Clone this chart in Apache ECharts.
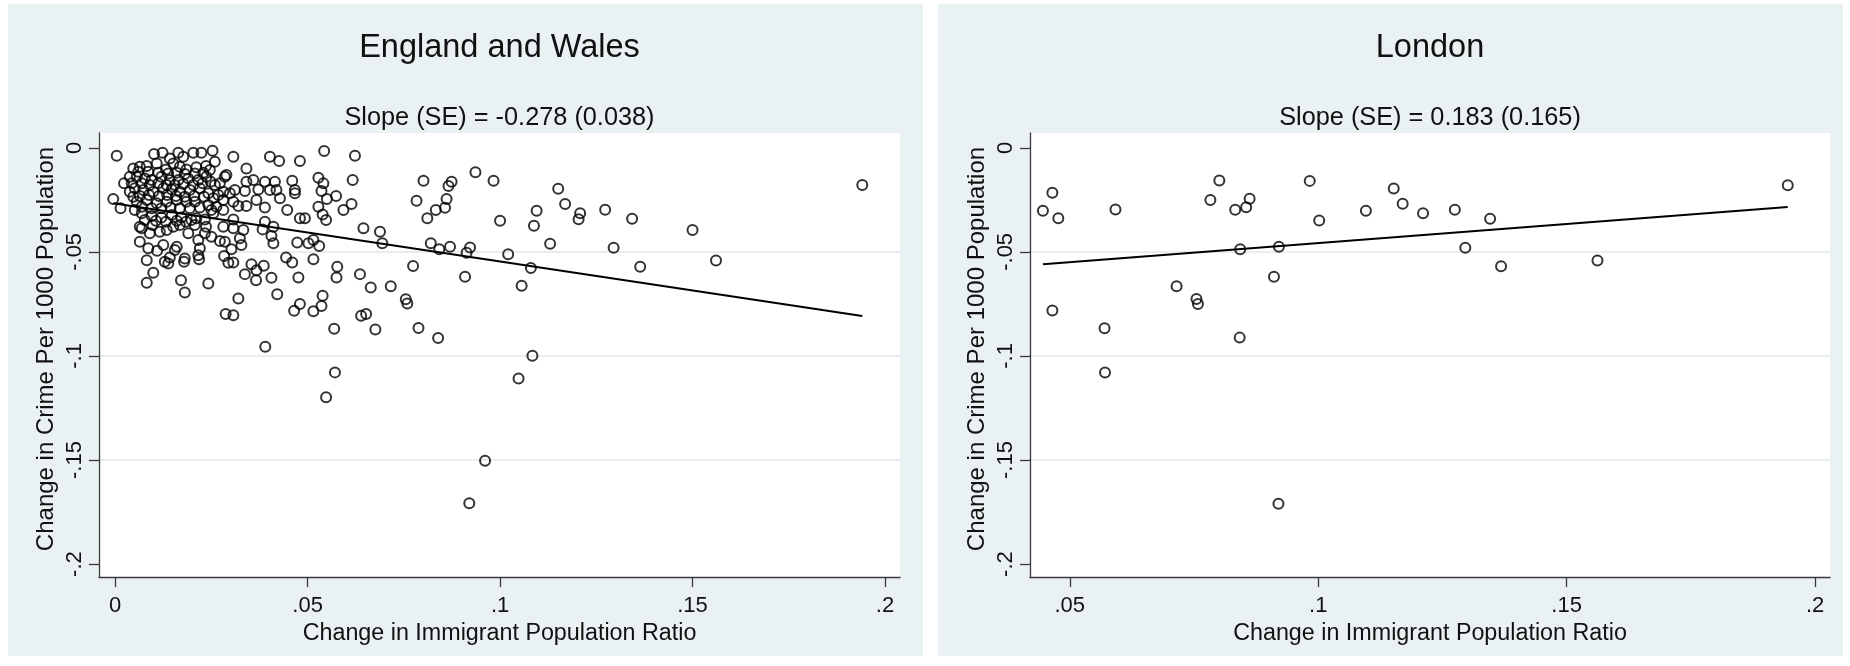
<!DOCTYPE html>
<html><head><meta charset="utf-8">
<script src="https://cdn.jsdelivr.net/npm/echarts@6/dist/echarts.min.js"></script>
<style>html,body{margin:0;padding:0;background:#fff}#c{width:1850px;height:666px}</style>
</head><body><div id="c"></div>
<script>
// ---------- data ----------
const panelTitles = ['England and Wales', 'London'];
const panelSubtitles = ['Slope (SE) = -0.278 (0.038)', 'Slope (SE) = 0.183 (0.165)'];
const xAxisTitle = 'Change in Immigrant Population Ratio';
const yAxisTitle = 'Change in Crime Per 1000 Population';

const xTicksEW = [0, 0.05, 0.1, 0.15, 0.2];
const xTicksLon = [0.05, 0.1, 0.15, 0.2];
const yTicks = [0, -0.05, -0.1, -0.15, -0.2];

// fitted lines (slope as reported, intercept)
const ewSlope = -0.278, ewIntercept = -0.0268;
const lonSlope = 0.183, lonIntercept = -0.0641;

// England and Wales: [change in immigrant ratio, change in crime per 1000]
const ewPoints = [
[0.0004,-0.0038],[0.0101,-0.0030],[0.0123,-0.0024],[0.0142,-0.0051],[0.0164,-0.0024],[0.0177,-0.0043],[0.0203,-0.0024],[0.0224,-0.0024],[0.0253,-0.0014],[0.0259,-0.0067],[0.0307,-0.0043],[0.0402,-0.0043],[0.0426,-0.0064],[0.0480,-0.0064],[0.0543,-0.0016],[0.0623,-0.0038],
[0.0047,-0.0099],[0.0064,-0.0091],[0.0082,-0.0088],[0.0108,-0.0075],[0.0132,-0.0104],[0.0151,-0.0075],[0.0168,-0.0091],[0.0185,-0.0104],[0.0211,-0.0094],[0.0236,-0.0088],[0.0246,-0.0107],[0.0341,-0.0099],[0.0936,-0.0118],
[0.0023,-0.0171],[0.0056,-0.0139],[0.0077,-0.0147],[0.0095,-0.0155],[0.0120,-0.0139],[0.0142,-0.0155],[0.0164,-0.0155],[0.0190,-0.0147],[0.0216,-0.0155],[0.0237,-0.0139],[0.0259,-0.0179],[0.0285,-0.0139],[0.0289,-0.0131],[0.0341,-0.0163],[0.0359,-0.0155],[0.0389,-0.0163],[0.0415,-0.0163],[0.0460,-0.0158],[0.0528,-0.0144],[0.0541,-0.0171],[0.0617,-0.0155],[0.0801,-0.0158],[0.0874,-0.0163],[0.0866,-0.0184],[0.0983,-0.0158],
[0.0051,-0.0195],[0.0073,-0.0203],[0.0099,-0.0211],[0.0125,-0.0195],[0.0147,-0.0200],[0.0168,-0.0211],[0.0194,-0.0203],[0.0220,-0.0195],[0.0242,-0.0219],[0.0281,-0.0211],[0.0311,-0.0203],[0.0337,-0.0208],[0.0372,-0.0200],[0.0402,-0.0203],[0.0419,-0.0203],[0.0467,-0.0203],[0.0467,-0.0219],[0.0536,-0.0208],[0.0550,-0.0246],[0.0574,-0.0232],[0.0428,-0.0243],[0.0861,-0.0246],[0.0783,-0.0254],
[-0.0005,-0.0246],[0.0014,-0.0291],[0.0056,-0.0259],[0.0082,-0.0251],[0.0108,-0.0267],[0.0134,-0.0259],[0.0160,-0.0251],[0.0185,-0.0259],[0.0207,-0.0259],[0.0255,-0.0243],[0.0281,-0.0251],[0.0307,-0.0259],[0.0320,-0.0280],[0.0341,-0.0280],[0.0367,-0.0251],[0.0389,-0.0287],[0.0447,-0.0299],[0.0528,-0.0283],[0.0593,-0.0299],[0.0614,-0.0270],[0.0833,-0.0299],[0.0857,-0.0288],
[0.0051,-0.0299],[0.0069,-0.0315],[0.0095,-0.0328],[0.0120,-0.0335],[0.0147,-0.0323],[0.0172,-0.0335],[0.0198,-0.0347],[0.0250,-0.0299],[0.0255,-0.0315],[0.0281,-0.0299],[0.0307,-0.0344],[0.0389,-0.0355],[0.0480,-0.0339],[0.0493,-0.0339],[0.0539,-0.0320],[0.0548,-0.0347],[0.0811,-0.0339],[0.1000,-0.0351],
[0.0064,-0.0379],[0.0069,-0.0387],[0.0097,-0.0371],[0.0116,-0.0403],[0.0151,-0.0379],[0.0168,-0.0371],[0.0190,-0.0411],[0.0207,-0.0371],[0.0236,-0.0379],[0.0281,-0.0379],[0.0307,-0.0387],[0.0333,-0.0395],[0.0383,-0.0392],[0.0411,-0.0379],[0.0406,-0.0424],[0.0645,-0.0387],[0.0688,-0.0403],
[0.0064,-0.0451],[0.0086,-0.0483],[0.0109,-0.0495],[0.0125,-0.0467],[0.0160,-0.0475],[0.0155,-0.0491],[0.0216,-0.0443],[0.0220,-0.0483],[0.0272,-0.0448],[0.0285,-0.0451],[0.0302,-0.0487],[0.0324,-0.0435],[0.0328,-0.0467],[0.0411,-0.0459],[0.0473,-0.0455],[0.0502,-0.0459],[0.0515,-0.0443],[0.0530,-0.0472],[0.0694,-0.0459],[0.0820,-0.0459],[0.0842,-0.0488],[0.0870,-0.0475],[0.0922,-0.0479],[0.0913,-0.0504],
[0.0082,-0.0540],[0.0129,-0.0548],[0.0138,-0.0556],[0.0142,-0.0527],[0.0181,-0.0532],[0.0179,-0.0548],[0.0216,-0.0516],[0.0218,-0.0536],[0.0283,-0.0520],[0.0294,-0.0552],[0.0307,-0.0551],[0.0444,-0.0527],[0.0460,-0.0551],[0.0515,-0.0536],
[0.0099,-0.0600],[0.0082,-0.0648],[0.0171,-0.0636],[0.0242,-0.0652],[0.0337,-0.0607],[0.0354,-0.0560],[0.0366,-0.0636],[0.0386,-0.0567],[0.0367,-0.0588],[0.0406,-0.0624],[0.0476,-0.0623],[0.0575,-0.0623],[0.0577,-0.0572],[0.0636,-0.0607],[0.0774,-0.0568],[0.0909,-0.0620],
[0.0181,-0.0695],[0.0320,-0.0724],[0.0421,-0.0704],[0.0664,-0.0671],[0.0716,-0.0665],[0.0755,-0.0728],[0.0759,-0.0748],[0.0287,-0.0799],[0.0307,-0.0804],[0.0465,-0.0783],[0.0480,-0.0751],[0.0515,-0.0785],[0.0536,-0.0760],[0.0539,-0.0711],[0.0639,-0.0807],[0.0652,-0.0799],
[0.0569,-0.0869],[0.0676,-0.0873],[0.0788,-0.0866],[0.0839,-0.0914],[0.0390,-0.0956],[0.0571,-0.1079],[0.1048,-0.1108],[0.0548,-0.1198],[0.0961,-0.1504],[0.0920,-0.1708],
[0.1021,-0.0512],[0.1080,-0.0577],[0.1056,-0.0663],[0.1084,-0.0999],[0.1088,-0.0375],[0.1095,-0.0303],[0.1130,-0.0461],[0.1151,-0.0197],[0.1169,-0.0270],[0.1208,-0.0315],[0.1204,-0.0343],[0.1273,-0.0298],[0.1295,-0.0480],[0.1343,-0.0341],[0.1364,-0.0572],[0.1500,-0.0395],[0.1561,-0.0541],[0.1941,-0.0179],
[0.0060,-0.0115],[0.0086,-0.0115],[0.0112,-0.0120],[0.0138,-0.0123],[0.0160,-0.0120],[0.0181,-0.0126],[0.0207,-0.0123],[0.0229,-0.0120],
[0.0069,-0.0171],[0.0090,-0.0179],[0.0112,-0.0171],[0.0134,-0.0179],[0.0155,-0.0179],[0.0177,-0.0174],[0.0203,-0.0179],[0.0227,-0.0171],[0.0248,-0.0163],
[0.0064,-0.0232],[0.0088,-0.0227],[0.0114,-0.0232],[0.0135,-0.0227],[0.0158,-0.0232],[0.0181,-0.0235],[0.0205,-0.0232],[0.0231,-0.0235],[0.0268,-0.0227],
[0.0069,-0.0283],[0.0095,-0.0291],[0.0120,-0.0291],[0.0144,-0.0287],[0.0168,-0.0291],[0.0194,-0.0291],[0.0220,-0.0287],[0.0242,-0.0275],
[0.0077,-0.0347],[0.0106,-0.0351],[0.0132,-0.0355],[0.0160,-0.0351],[0.0184,-0.0355],[0.0211,-0.0339],[0.0233,-0.0344],
[0.0047,-0.0235],[0.0038,-0.0211],[0.0043,-0.0171],[0.0038,-0.0139],[0.0272,-0.0171],[0.0298,-0.0219],[0.0263,-0.0283],[0.0233,-0.0411],[0.0090,-0.0411],[0.0134,-0.0395],[0.0250,-0.0427]
];

// London boroughs
const lonPoints = [
[0.0446,-0.0302],[0.0465,-0.0216],[0.0477,-0.0339],[0.0465,-0.0782],[0.0592,-0.0296],[0.0570,-0.0867],[0.0571,-0.1080],[0.0715,-0.0665],
[0.0755,-0.0727],[0.0758,-0.0751],[0.0783,-0.0251],[0.0801,-0.0157],[0.0833,-0.0298],[0.0842,-0.0912],[0.0843,-0.0488],[0.0855,-0.0286],
[0.0862,-0.0245],[0.0911,-0.0620],[0.0921,-0.0476],[0.0920,-0.1710],[0.0983,-0.0159],[0.1002,-0.0349],[0.1096,-0.0302],[0.1152,-0.0196],
[0.1170,-0.0269],[0.1211,-0.0314],[0.1275,-0.0298],[0.1296,-0.0480],[0.1346,-0.0341],[0.1368,-0.0569],[0.1562,-0.0541],[0.1945,-0.0180]
];

// ---------- chart ----------
function fitLine(points, a, b) {
  const xs = points.map(p => p[0]);
  const lo = Math.min(...xs), hi = Math.max(...xs);
  return [[lo, a + b * lo], [hi, a + b * hi]];
}
function stataFmt(v) {
  if (Math.abs(v) < 1e-9) return '0';
  return String(+v.toFixed(2)).replace('0.', '.');
}
const FONT = 'Liberation Sans, Arial, Helvetica, sans-serif';
const TXT = '#111';
const AX = '#3a3a3a';
const GRIDC = '#e6eef0';

function xAxisFor(gi, min, max, ticks, split) {
  return {
    type: 'value', gridIndex: gi, min: min, max: max, splitNumber: split,
    axisLine: { onZero: false, lineStyle: { color: AX, width: 1.3 } },
    axisTick: { show: true, length: 10, customValues: ticks, lineStyle: { color: AX, width: 1.3 } },
    axisLabel: { customValues: ticks, formatter: stataFmt, fontSize: 22, fontFamily: FONT, color: TXT, margin: 18,
                 showMinLabel: true, showMaxLabel: true },
    splitLine: { show: false },
    name: xAxisTitle, nameLocation: 'middle', nameGap: 35,
    nameTextStyle: { fontSize: 23.3, fontFamily: FONT, color: TXT }
  };
}
function yAxisFor(gi) {
  return {
    type: 'value', gridIndex: gi, min: -0.2062, max: 0.0071, splitNumber: 4,
    axisLine: { onZero: false, lineStyle: { color: AX, width: 1.3 } },
    axisTick: { show: true, length: 10, customValues: yTicks, lineStyle: { color: AX, width: 1.3 } },
    axisLabel: { customValues: yTicks, formatter: stataFmt, rotate: 90, fontSize: 22, fontFamily: FONT, color: TXT, margin: 13 },
    splitLine: { show: true, showMinLine: false, showMaxLine: false, lineStyle: { color: GRIDC, width: 2 } },
    name: yAxisTitle, nameLocation: 'middle', nameGap: 41,
    nameTextStyle: { fontSize: 24, fontFamily: FONT, color: TXT, padding: [0, 0, 0, 12] }
  };
}
const scatterStyle = { color: 'rgba(0,0,0,0)', borderColor: '#000', borderWidth: 2 };

const chart = echarts.init(document.getElementById('c'), null, { renderer: 'canvas' });
chart.setOption({
  animation: false,
  backgroundColor: '#ffffff',
  graphic: [
    { type: 'rect', z: -10, shape: { x: 8, y: 4, width: 915, height: 652 }, style: { fill: '#eaf1f3' } },
    { type: 'rect', z: -10, shape: { x: 938, y: 4, width: 905, height: 652 }, style: { fill: '#eaf1f3' } },
    { type: 'text', z: 10, x: 499.5, y: 48.5, style: { text: panelTitles[0], font: '32.5px ' + FONT, fill: TXT, align: 'center', verticalAlign: 'middle', textAlign: 'center', textVerticalAlign: 'middle' } },
    { type: 'text', z: 10, x: 499.5, y: 118.5, style: { text: panelSubtitles[0], font: '25.3px ' + FONT, fill: TXT, align: 'center', verticalAlign: 'middle', textAlign: 'center', textVerticalAlign: 'middle' } },
    { type: 'text', z: 10, x: 1430, y: 48.5, style: { text: panelTitles[1], font: '32.5px ' + FONT, fill: TXT, align: 'center', verticalAlign: 'middle', textAlign: 'center', textVerticalAlign: 'middle' } },
    { type: 'text', z: 10, x: 1430, y: 118.5, style: { text: panelSubtitles[1], font: '25.3px ' + FONT, fill: TXT, align: 'center', verticalAlign: 'middle', textAlign: 'center', textVerticalAlign: 'middle' } }
  ],
  grid: [
    { left: 99, top: 133, width: 801, height: 444, show: true, backgroundColor: '#ffffff', borderWidth: 0 },
    { left: 1030, top: 133, width: 800, height: 444, show: true, backgroundColor: '#ffffff', borderWidth: 0 }
  ],
  xAxis: [ xAxisFor(0, -0.0042, 0.2039, xTicksEW, 5), xAxisFor(1, 0.0420, 0.2030, xTicksLon, 3) ],
  yAxis: [ yAxisFor(0), yAxisFor(1) ],
  series: [
    { type: 'scatter', xAxisIndex: 0, yAxisIndex: 0, data: ewPoints, symbol: 'circle', symbolSize: 10, itemStyle: scatterStyle },
    { type: 'line', xAxisIndex: 0, yAxisIndex: 0, data: fitLine(ewPoints, ewIntercept, ewSlope), showSymbol: false, symbol: 'none', lineStyle: { color: '#000', width: 2 } },
    { type: 'scatter', xAxisIndex: 1, yAxisIndex: 1, data: lonPoints, symbol: 'circle', symbolSize: 10, itemStyle: scatterStyle },
    { type: 'line', xAxisIndex: 1, yAxisIndex: 1, data: fitLine(lonPoints, lonIntercept, lonSlope), showSymbol: false, symbol: 'none', lineStyle: { color: '#000', width: 2 } }
  ]
});
</script>
</body></html>
